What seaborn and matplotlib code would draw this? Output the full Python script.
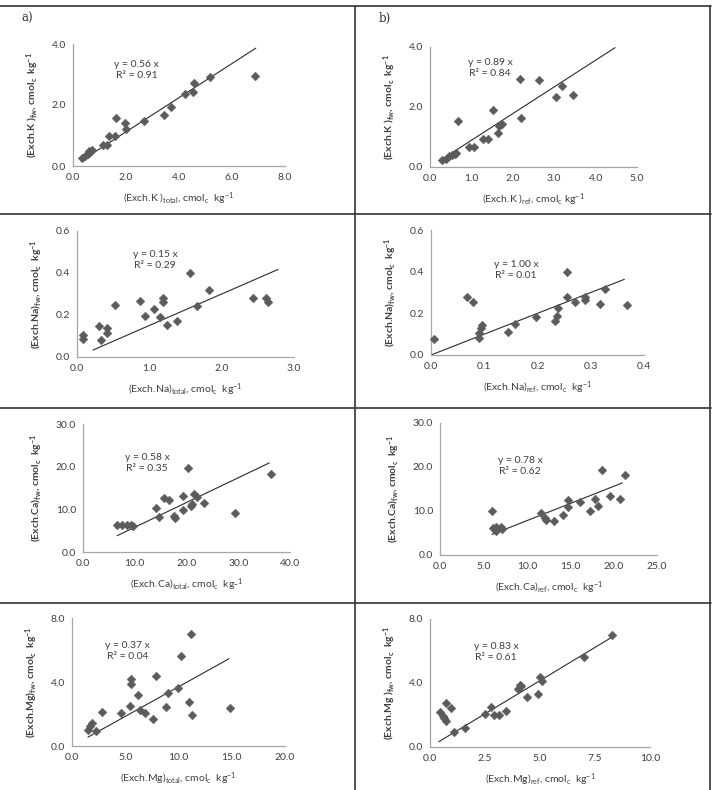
import matplotlib
matplotlib.use("Agg")
import numpy as np
import pandas as pd
import matplotlib.pyplot as plt
import seaborn as sns
from matplotlib.lines import Line2D

# ===== DATA =====
# a) exchangeable K, total vs field
k_total = [0.34, 0.46, 0.56, 0.60, 0.65, 0.71, 1.12, 1.27, 1.36, 1.59, 1.61, 1.97, 2.00,
           2.67, 3.44, 3.70, 4.24, 4.52, 4.56, 5.17, 6.85]
k_total_fw = [0.25, 0.33, 0.40, 0.50, 0.46, 0.52, 0.68, 0.68, 0.98, 0.98, 1.56, 1.42, 1.20,
              1.47, 1.68, 1.93, 2.37, 2.42, 2.72, 2.91, 2.94]
# b) exchangeable K, ref vs field
k_ref = [0.30, 0.38, 0.46, 0.54, 0.60, 0.64, 0.68, 0.94, 1.06, 1.29, 1.41, 1.53, 1.64,
         1.66, 1.73, 2.17, 2.21, 2.63, 3.05, 3.18, 3.45]
k_ref_fw = [0.22, 0.28, 0.36, 0.39, 0.44, 0.48, 1.53, 0.67, 0.67, 0.94, 0.94, 1.91, 1.14,
            1.37, 1.42, 2.92, 1.64, 2.89, 2.33, 2.70, 2.39]
# exchangeable Na, total vs field
na_total = [0.08, 0.08, 0.31, 0.33, 0.41, 0.41, 0.52, 0.87, 0.94, 1.07, 1.15, 1.19, 1.19,
            1.24, 1.38, 1.56, 1.66, 1.82, 2.43, 2.61, 2.64]
na_total_fw = [0.106, 0.087, 0.146, 0.082, 0.138, 0.114, 0.249, 0.268, 0.193, 0.230, 0.190,
               0.280, 0.260, 0.154, 0.173, 0.402, 0.245, 0.320, 0.280, 0.280, 0.264]
# exchangeable Na, ref vs field
na_ref = [0.005, 0.067, 0.078, 0.090, 0.091, 0.094, 0.096, 0.144, 0.158, 0.197, 0.232,
          0.236, 0.239, 0.256, 0.256, 0.271, 0.289, 0.290, 0.317, 0.326, 0.368]
na_ref_fw = [0.077, 0.280, 0.256, 0.080, 0.104, 0.131, 0.144, 0.109, 0.149, 0.184, 0.165,
             0.187, 0.227, 0.400, 0.280, 0.256, 0.280, 0.264, 0.245, 0.315, 0.240]
# exchangeable Ca, total vs field
ca_total = [6.6, 7.5, 8.5, 9.3, 9.6, 14.1, 14.7, 15.6, 16.6, 17.5, 17.8, 19.4, 19.4, 20.3,
            20.9, 21.0, 21.4, 22.0, 23.3, 29.4, 36.3]
ca_total_fw = [6.4, 6.4, 6.4, 6.4, 6.0, 10.2, 8.1, 12.7, 12.3, 8.4, 8.0, 13.2, 9.9, 19.7,
               10.7, 11.3, 13.6, 13.0, 11.5, 9.1, 18.3]
# exchangeable Ca, ref vs field
ca_ref = [5.96, 6.08, 6.4, 6.5, 7.0, 7.15, 11.65, 12.1, 12.2, 13.1, 14.15, 14.7, 14.8,
          16.1, 17.3, 17.8, 18.2, 18.65, 19.6, 20.7, 21.3]
ca_ref_fw = [9.9, 6.1, 6.3, 5.5, 6.3, 5.8, 9.6, 8.4, 8.0, 7.8, 9.0, 12.5, 10.9, 12.1, 10.1,
             12.8, 11.2, 19.4, 13.4, 12.7, 18.1]
# exchangeable Mg, total vs field
mg_total = [1.5, 1.72, 1.88, 2.29, 2.85, 4.64, 5.42, 5.58, 5.58, 6.2, 6.43, 6.9, 7.6, 7.93,
            8.78, 8.97, 9.97, 10.28, 11.0, 11.13, 11.3, 14.8]
mg_total_fw = [1.0, 1.27, 1.42, 0.96, 2.15, 2.05, 2.53, 4.18, 3.88, 3.19, 2.25, 2.05, 1.69,
               4.4, 2.46, 3.34, 3.61, 5.6, 2.78, 6.99, 1.94, 2.36]
# exchangeable Mg, ref vs field
mg_ref = [0.45, 0.57, 0.63, 0.72, 0.72, 0.95, 1.08, 1.58, 2.48, 2.79, 2.91, 3.13, 3.46,
          3.99, 4.10, 4.14, 4.40, 4.89, 5.02, 5.09, 7.00, 8.25]
mg_ref_fw = [2.19, 1.92, 1.81, 1.65, 2.75, 2.44, 0.92, 1.19, 2.06, 2.48, 2.02, 1.98, 2.27,
             3.65, 3.90, 3.79, 3.13, 3.31, 4.35, 4.15, 5.63, 6.98]

slopes = [0.56, 0.89, 0.15, 1.00, 0.58, 0.78, 0.37, 0.83]
r2_values = [0.91, 0.84, 0.29, 0.01, 0.35, 0.62, 0.04, 0.61]
trend_x = [(0.3, 6.9), (0.3, 4.47), (0.22, 2.78), (0.0, 0.363),
           (6.6, 36.0), (6.0, 21.0), (1.5, 14.75), (0.4, 8.4)]
x_ticks = [[0, 2, 4, 6, 8], [0, 1, 2, 3, 4, 5], [0, 1, 2, 3], [0, 0.1, 0.2, 0.3, 0.4],
           [0, 10, 20, 30, 40], [0, 5, 10, 15, 20, 25], [0, 5, 10, 15, 20],
           [0, 2.5, 5, 7.5, 10]]
y_ticks = [[0, 2, 4], [0, 2, 4], [0, 0.2, 0.4, 0.6], [0, 0.2, 0.4, 0.6],
           [0, 10, 20, 30], [0, 10, 20, 30], [0, 4, 8], [0, 4, 8]]
x_labels = [
    "(Exch.K )$_{total}$, cmol$_c$  kg$^{-1}$",
    "(Exch.K )$_{ref}$, cmol$_c$ kg$^{-1}$",
    "(Exch.Na)$_{total}$, cmol$_c$  kg$^{-1}$",
    "(Exch.Na)$_{ref}$, cmol$_c$  kg$^{-1}$",
    "(Exch.Ca)$_{total}$, cmol$_c$  kg-$^{1}$",
    "(Exch.Ca)$_{ref}$, cmol$_c$  kg$^{-1}$",
    "(Exch.Mg)$_{total}$, cmol$_c$  kg$^{-1}$",
    "(Exch.Mg)$_{ref}$, cmol$_c$  kg$^{-1}$",
]
y_labels = [
    "(Exch.K )$_{fw}$, cmol$_c$  kg$^{-1}$",
    "(Exch.K )$_{fw}$, cmol$_c$  kg$^{-1}$",
    "(Exch.Na)$_{fw}$, cmol$_c$  kg$^{-1}$",
    "(Exch.Na)$_{fw}$, cmol$_c$  kg$^{-1}$",
    "(Exch.Ca)$_{fw}$, cmol$_c$  kg$^{-1}$",
    "(Exch.Ca)$_{fw}$, cmol$_c$  kg$^{-1}$",
    "(Exch.Mg)$_{fw}$, cmol$_c$  kg$^{-1}$",
    "(Exch.Mg )$_{fw}$, cmol$_c$  kg$^{-1}$",
]
panel_x = [k_total, k_ref, na_total, na_ref, ca_total, ca_ref, mg_total, mg_ref]
panel_y = [k_total_fw, k_ref_fw, na_total_fw, na_ref_fw, ca_total_fw, ca_ref_fw,
           mg_total_fw, mg_ref_fw]
# ================

# axes boxes in pixels: left, right, top, bottom
BOXES = [(73, 285, 44, 166), (430, 637, 47, 167),
         (77, 294, 231, 357), (431, 644, 230, 355),
         (83, 290, 424, 552), (440, 657, 423, 555),
         (72, 285, 618, 746), (430, 650, 619, 747)]
# equation text position (axes fraction)
EQ_POS = [(0.30, 0.79), (0.29, 0.825), (0.36, 0.77), (0.40, 0.68),
          (0.31, 0.695), (0.37, 0.675), (0.26, 0.74), (0.30, 0.74)]

W, H = 714, 790
TXT = "#3f3f3f"
MARK = "#5b5b5b"

sns.set_style("white")
plt.rcParams["font.family"] = ["Lato", "DejaVu Sans"]
plt.rcParams["mathtext.default"] = "regular"

fig = plt.figure(figsize=(W / 100, H / 100), dpi=100)

for i in range(8):
    l, r, t, b = BOXES[i]
    ax = fig.add_axes([l / W, 1 - b / H, (r - l) / W, (b - t) / H])
    df = pd.DataFrame({"x": panel_x[i], "y": panel_y[i]})
    sns.scatterplot(data=df, x="x", y="y", ax=ax, marker="D", s=20, color=MARK,
                    edgecolor=MARK, linewidth=0.3, clip_on=False, zorder=3)
    tx = np.array(trend_x[i])
    ax.plot(tx, slopes[i] * tx, color="#2b2b2b", lw=0.8, zorder=2)

    xt, yt = x_ticks[i], y_ticks[i]
    ax.set_xlim(0, xt[-1])
    ax.set_ylim(0, yt[-1])
    ax.set_xticks(xt)
    ax.set_yticks(yt)
    ax.set_xticklabels([f"{v:.1f}" for v in xt])
    ax.set_yticklabels([f"{v:.1f}" for v in yt])
    ax.tick_params(length=0, pad=5, labelsize=7.5, labelcolor=TXT)
    for s in ["top", "right"]:
        ax.spines[s].set_visible(False)
    for s in ["left", "bottom"]:
        ax.spines[s].set_color("#a6a6a6")
        ax.spines[s].set_linewidth(0.9)
    ax.set_xlabel(x_labels[i], fontsize=7.5, color=TXT, labelpad=6)
    ax.set_ylabel(y_labels[i], fontsize=7.5, color=TXT, fontweight="bold", labelpad=8)

    ex, ey = EQ_POS[i]
    ax.text(ex, ey, f"y = {slopes[i]:.2f} x\nR\u00b2 = {r2_values[i]:.2f}",
            transform=ax.transAxes, ha="center", va="center", fontsize=7.5,
            color=TXT, linespacing=1.3)

# table frame
def hline(y, x0=0, x1=W):
    fig.add_artist(Line2D([x0 / W, x1 / W], [1 - y / H, 1 - y / H], color="#333333", lw=1.2))


def vline(x, y0=6, y1=H):
    fig.add_artist(Line2D([x / W, x / W], [1 - y0 / H, 1 - y1 / H], color="#333333", lw=1.2))


for y in [6, 214, 408, 603]:
    hline(y, 0, 711)
vline(355)
vline(710)

fig.text(27 / W, 1 - 18 / H, "a)", family="DejaVu Serif", fontsize=8.5, color="#333333",
         ha="center", va="center")
fig.text(385 / W, 1 - 18 / H, "b)", family="DejaVu Serif", fontsize=8.5, color="#333333",
         ha="center", va="center")

fig.savefig("out.png", dpi=100)
